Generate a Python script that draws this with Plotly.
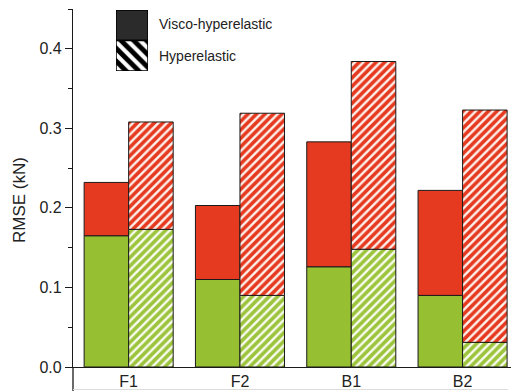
import plotly.graph_objects as go

categories = ["F1", "F2", "B1", "B2"]
visco_green = [0.165, 0.110, 0.126, 0.090]
visco_total = [0.232, 0.203, 0.283, 0.222]
hyper_green = [0.173, 0.090, 0.148, 0.031]
hyper_total = [0.308, 0.319, 0.384, 0.323]
y_ticks = [0.0, 0.1, 0.2, 0.3, 0.4]

RED = "#E63A20"
GREEN = "#97BF32"
xs = list(range(len(categories)))
visco_red = [t - g for t, g in zip(visco_total, visco_green)]
hyper_red = [t - g for t, g in zip(hyper_total, hyper_green)]

line = dict(color="#1a1a1a", width=1)
fig = go.Figure()
# Visco-hyperelastic (solid)
fig.add_bar(x=xs, y=visco_green, base=[0]*4, width=0.4, offset=-0.4,
            marker=dict(color=GREEN, line=line), showlegend=False)
fig.add_bar(x=xs, y=visco_red, base=visco_green, width=0.4, offset=-0.4,
            marker=dict(color=RED, line=line), showlegend=False)
# Hyperelastic (hatched)
fig.add_bar(x=xs, y=hyper_green, base=[0]*4, width=0.4, offset=0.0,
            marker=dict(color=GREEN, line=line,
                        pattern=dict(shape="/", fgcolor="#9CC43C", bgcolor="#FAFCF2",
                                     fgopacity=1, size=6, solidity=0.6)), showlegend=False)
fig.add_bar(x=xs, y=hyper_red, base=hyper_green, width=0.4, offset=0.0,
            marker=dict(color=RED, line=line,
                        pattern=dict(shape="/", fgcolor=RED, bgcolor="#FDF3EE",
                                     fgopacity=1, size=6, solidity=0.6)), showlegend=False)

# Legend swatches on a hidden mini axis
fig.add_bar(x=[0], y=[1], base=[1], width=1, xaxis="x2", yaxis="y2",
            marker=dict(color="#2b2b2b", line=dict(color="black", width=1.5)),
            showlegend=False, hoverinfo="skip")
fig.add_bar(x=[0], y=[1], base=[0], width=1, xaxis="x2", yaxis="y2",
            marker=dict(color="black", line=dict(color="black", width=1.5),
                        pattern=dict(shape="\\", fgcolor="black", bgcolor="white",
                                     fgopacity=1, size=9, solidity=0.55)),
            showlegend=False, hoverinfo="skip")

W, H = 511, 391
L, R, T, B = 73, 0, 9, 24
pw, ph = W - L - R, H - T - B

def px(xp):
    return (xp - L) / pw

def py(yp):
    return (H - B - yp) / ph

fig.update_layout(
    width=W, height=H, margin=dict(l=L, r=R, t=T, b=B),
    paper_bgcolor="white", plot_bgcolor="white",
    barmode="overlay",
    font=dict(family="Liberation Sans, Arial", color="#222"),
    xaxis=dict(range=[-0.5, 3.435], tickvals=xs, ticktext=categories,
               showline=True, linecolor="#1a1a1a", linewidth=1.3,
               ticks="", showgrid=False, zeroline=False,
               tickfont=dict(size=16)),
    yaxis=dict(range=[0, 0.45], tickvals=y_ticks, tickformat=".1f",
               showline=True, linecolor="#1a1a1a", linewidth=1.3,
               ticks="outside", ticklen=7, tickwidth=1.3, tickcolor="#1a1a1a",
               minor=dict(dtick=0.05, ticks="outside", ticklen=4, tickwidth=1.3,
                          tickcolor="#1a1a1a"),
               showgrid=False, zeroline=False, tickfont=dict(size=16)),
    xaxis2=dict(domain=[px(116), px(148)], anchor="y2", range=[-0.5, 0.5],
                visible=False, fixedrange=True),
    yaxis2=dict(domain=[py(71), py(10)], anchor="x2", range=[0, 2],
                visible=False, fixedrange=True),
    annotations=[
        dict(text="Visco-hyperelastic", xref="paper", yref="paper",
             x=px(157), y=py(24), xanchor="left", yanchor="middle",
             showarrow=False, font=dict(size=14, color="#222")),
        dict(text="Hyperelastic", xref="paper", yref="paper",
             x=px(157), y=py(56), xanchor="left", yanchor="middle",
             showarrow=False, font=dict(size=14, color="#222")),
        dict(text="RMSE (kN)", xref="paper", yref="paper",
             x=px(19), y=py(200), xanchor="center", yanchor="middle",
             textangle=-90, showarrow=False, font=dict(size=17, color="#222")),
    ],
    shapes=[
        dict(type="line", xref="paper", yref="paper", x0=0, x1=0,
             y0=0, y1=py(391), line=dict(color="#1a1a1a", width=1.3)),
        dict(type="line", xref="paper", yref="paper", x0=0, x1=px(508),
             y0=py(389.5), y1=py(389.5), line=dict(color="#dcdcdc", width=1)),
    ],
)

fig.write_html("out.html")
